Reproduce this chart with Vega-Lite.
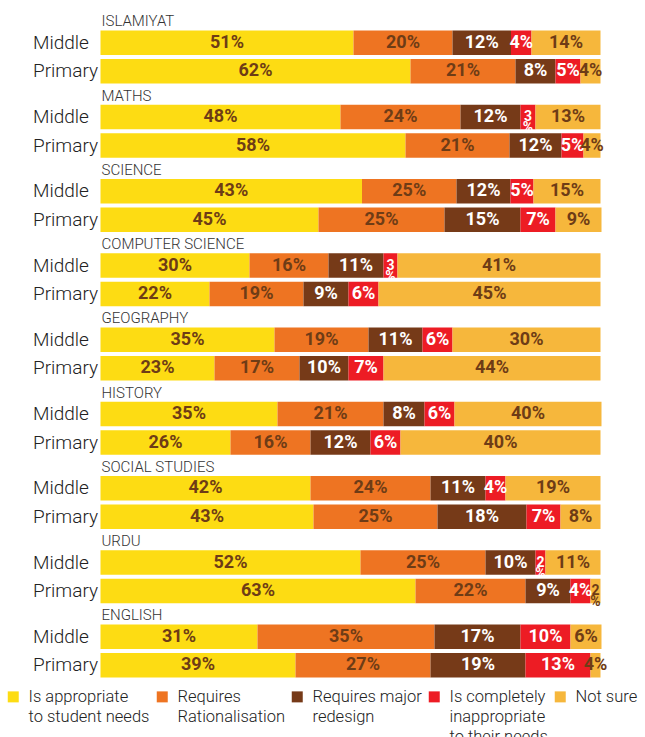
{
  "$schema": "https://vega.github.io/schema/vega-lite/v6.json",
  "padding": {"left": 4.5, "top": 13.5, "right": 4, "bottom": 2},
  "bounds": "flush",
  "data": {"values": [
    {"subject":"ISLAMIYAT","level":"Middle","category":"Is appropriate to student needs","share":50.6,"pct":51},
    {"subject":"ISLAMIYAT","level":"Middle","category":"Requires Rationalisation","share":19.8,"pct":20},
    {"subject":"ISLAMIYAT","level":"Middle","category":"Requires major redesign","share":11.7,"pct":12},
    {"subject":"ISLAMIYAT","level":"Middle","category":"Is completely inappropriate to their needs","share":4.1,"pct":4},
    {"subject":"ISLAMIYAT","level":"Middle","category":"Not sure","share":13.8,"pct":14},
    {"subject":"ISLAMIYAT","level":"Primary","category":"Is appropriate to student needs","share":62,"pct":62},
    {"subject":"ISLAMIYAT","level":"Primary","category":"Requires Rationalisation","share":21,"pct":21},
    {"subject":"ISLAMIYAT","level":"Primary","category":"Requires major redesign","share":8,"pct":8},
    {"subject":"ISLAMIYAT","level":"Primary","category":"Is completely inappropriate to their needs","share":5,"pct":5},
    {"subject":"ISLAMIYAT","level":"Primary","category":"Not sure","share":4,"pct":4},
    {"subject":"MATHS","level":"Middle","category":"Is appropriate to student needs","share":48,"pct":48},
    {"subject":"MATHS","level":"Middle","category":"Requires Rationalisation","share":24,"pct":24},
    {"subject":"MATHS","level":"Middle","category":"Requires major redesign","share":12,"pct":12},
    {"subject":"MATHS","level":"Middle","category":"Is completely inappropriate to their needs","share":3,"pct":3},
    {"subject":"MATHS","level":"Middle","category":"Not sure","share":13,"pct":13},
    {"subject":"MATHS","level":"Primary","category":"Is appropriate to student needs","share":61,"pct":58},
    {"subject":"MATHS","level":"Primary","category":"Requires Rationalisation","share":20.8,"pct":21},
    {"subject":"MATHS","level":"Primary","category":"Requires major redesign","share":10.4,"pct":12},
    {"subject":"MATHS","level":"Primary","category":"Is completely inappropriate to their needs","share":4.4,"pct":5},
    {"subject":"MATHS","level":"Primary","category":"Not sure","share":3.4,"pct":4},
    {"subject":"SCIENCE","level":"Middle","category":"Is appropriate to student needs","share":52.3,"pct":43},
    {"subject":"SCIENCE","level":"Middle","category":"Requires Rationalisation","share":18.9,"pct":25},
    {"subject":"SCIENCE","level":"Middle","category":"Requires major redesign","share":10.8,"pct":12},
    {"subject":"SCIENCE","level":"Middle","category":"Is completely inappropriate to their needs","share":4.6,"pct":5},
    {"subject":"SCIENCE","level":"Middle","category":"Not sure","share":13.4,"pct":15},
    {"subject":"SCIENCE","level":"Primary","category":"Is appropriate to student needs","share":43.6,"pct":45},
    {"subject":"SCIENCE","level":"Primary","category":"Requires Rationalisation","share":25.2,"pct":25},
    {"subject":"SCIENCE","level":"Primary","category":"Requires major redesign","share":15.2,"pct":15},
    {"subject":"SCIENCE","level":"Primary","category":"Is completely inappropriate to their needs","share":7,"pct":7},
    {"subject":"SCIENCE","level":"Primary","category":"Not sure","share":9.2,"pct":9},
    {"subject":"COMPUTER SCIENCE","level":"Middle","category":"Is appropriate to student needs","share":29.8,"pct":30},
    {"subject":"COMPUTER SCIENCE","level":"Middle","category":"Requires Rationalisation","share":15.8,"pct":16},
    {"subject":"COMPUTER SCIENCE","level":"Middle","category":"Requires major redesign","share":11,"pct":11},
    {"subject":"COMPUTER SCIENCE","level":"Middle","category":"Is completely inappropriate to their needs","share":2.8,"pct":3},
    {"subject":"COMPUTER SCIENCE","level":"Middle","category":"Not sure","share":40.6,"pct":41},
    {"subject":"COMPUTER SCIENCE","level":"Primary","category":"Is appropriate to student needs","share":21.8,"pct":22},
    {"subject":"COMPUTER SCIENCE","level":"Primary","category":"Requires Rationalisation","share":18.8,"pct":19},
    {"subject":"COMPUTER SCIENCE","level":"Primary","category":"Requires major redesign","share":9,"pct":9},
    {"subject":"COMPUTER SCIENCE","level":"Primary","category":"Is completely inappropriate to their needs","share":6,"pct":6},
    {"subject":"COMPUTER SCIENCE","level":"Primary","category":"Not sure","share":44.4,"pct":45},
    {"subject":"GEOGRAPHY","level":"Middle","category":"Is appropriate to student needs","share":34.8,"pct":35},
    {"subject":"GEOGRAPHY","level":"Middle","category":"Requires Rationalisation","share":18.8,"pct":19},
    {"subject":"GEOGRAPHY","level":"Middle","category":"Requires major redesign","share":10.8,"pct":11},
    {"subject":"GEOGRAPHY","level":"Middle","category":"Is completely inappropriate to their needs","share":6,"pct":6},
    {"subject":"GEOGRAPHY","level":"Middle","category":"Not sure","share":29.6,"pct":30},
    {"subject":"GEOGRAPHY","level":"Primary","category":"Is appropriate to student needs","share":22.8,"pct":23},
    {"subject":"GEOGRAPHY","level":"Primary","category":"Requires Rationalisation","share":17,"pct":17},
    {"subject":"GEOGRAPHY","level":"Primary","category":"Requires major redesign","share":9.8,"pct":10},
    {"subject":"GEOGRAPHY","level":"Primary","category":"Is completely inappropriate to their needs","share":7,"pct":7},
    {"subject":"GEOGRAPHY","level":"Primary","category":"Not sure","share":43.4,"pct":44},
    {"subject":"HISTORY","level":"Middle","category":"Is appropriate to student needs","share":35.4,"pct":35},
    {"subject":"HISTORY","level":"Middle","category":"Requires Rationalisation","share":21.2,"pct":21},
    {"subject":"HISTORY","level":"Middle","category":"Requires major redesign","share":8.2,"pct":8},
    {"subject":"HISTORY","level":"Middle","category":"Is completely inappropriate to their needs","share":6,"pct":6},
    {"subject":"HISTORY","level":"Middle","category":"Not sure","share":29.4,"pct":40},
    {"subject":"HISTORY","level":"Primary","category":"Is appropriate to student needs","share":26,"pct":26},
    {"subject":"HISTORY","level":"Primary","category":"Requires Rationalisation","share":16,"pct":16},
    {"subject":"HISTORY","level":"Primary","category":"Requires major redesign","share":12,"pct":12},
    {"subject":"HISTORY","level":"Primary","category":"Is completely inappropriate to their needs","share":6,"pct":6},
    {"subject":"HISTORY","level":"Primary","category":"Not sure","share":40,"pct":40},
    {"subject":"SOCIAL STUDIES","level":"Middle","category":"Is appropriate to student needs","share":42,"pct":42},
    {"subject":"SOCIAL STUDIES","level":"Middle","category":"Requires Rationalisation","share":24,"pct":24},
    {"subject":"SOCIAL STUDIES","level":"Middle","category":"Requires major redesign","share":11,"pct":11},
    {"subject":"SOCIAL STUDIES","level":"Middle","category":"Is completely inappropriate to their needs","share":4,"pct":4},
    {"subject":"SOCIAL STUDIES","level":"Middle","category":"Not sure","share":19,"pct":19},
    {"subject":"SOCIAL STUDIES","level":"Primary","category":"Is appropriate to student needs","share":42.6,"pct":43},
    {"subject":"SOCIAL STUDIES","level":"Primary","category":"Requires Rationalisation","share":24.8,"pct":25},
    {"subject":"SOCIAL STUDIES","level":"Primary","category":"Requires major redesign","share":17.8,"pct":18},
    {"subject":"SOCIAL STUDIES","level":"Primary","category":"Is completely inappropriate to their needs","share":6.8,"pct":7},
    {"subject":"SOCIAL STUDIES","level":"Primary","category":"Not sure","share":8,"pct":8},
    {"subject":"URDU","level":"Middle","category":"Is appropriate to student needs","share":52,"pct":52},
    {"subject":"URDU","level":"Middle","category":"Requires Rationalisation","share":25,"pct":25},
    {"subject":"URDU","level":"Middle","category":"Requires major redesign","share":10,"pct":10},
    {"subject":"URDU","level":"Middle","category":"Is completely inappropriate to their needs","share":2,"pct":2},
    {"subject":"URDU","level":"Middle","category":"Not sure","share":11,"pct":11},
    {"subject":"URDU","level":"Primary","category":"Is appropriate to student needs","share":63,"pct":63},
    {"subject":"URDU","level":"Primary","category":"Requires Rationalisation","share":22,"pct":22},
    {"subject":"URDU","level":"Primary","category":"Requires major redesign","share":9,"pct":9},
    {"subject":"URDU","level":"Primary","category":"Is completely inappropriate to their needs","share":4,"pct":4},
    {"subject":"URDU","level":"Primary","category":"Not sure","share":2,"pct":2},
    {"subject":"ENGLISH","level":"Middle","category":"Is appropriate to student needs","share":31.4,"pct":31},
    {"subject":"ENGLISH","level":"Middle","category":"Requires Rationalisation","share":35.4,"pct":35},
    {"subject":"ENGLISH","level":"Middle","category":"Requires major redesign","share":17.2,"pct":17},
    {"subject":"ENGLISH","level":"Middle","category":"Is completely inappropriate to their needs","share":10,"pct":10},
    {"subject":"ENGLISH","level":"Middle","category":"Not sure","share":6.2,"pct":6},
    {"subject":"ENGLISH","level":"Primary","category":"Is appropriate to student needs","share":39,"pct":39},
    {"subject":"ENGLISH","level":"Primary","category":"Requires Rationalisation","share":27,"pct":27},
    {"subject":"ENGLISH","level":"Primary","category":"Requires major redesign","share":19,"pct":19},
    {"subject":"ENGLISH","level":"Primary","category":"Is completely inappropriate to their needs","share":13,"pct":13},
    {"subject":"ENGLISH","level":"Primary","category":"Not sure","share":2,"pct":4}
  ]},
  "transform": [
    {"calculate": "indexof(['Is appropriate to student needs','Requires Rationalisation','Requires major redesign','Is completely inappropriate to their needs','Not sure'], datum.category)", "as": "order"},
    {"stack": "share", "groupby": ["subject", "level"], "sort": [{"field": "order", "order": "ascending"}], "as": ["x0", "x1"]},
    {"calculate": "(datum.x0 + datum.x1) / 2", "as": "mid"},
    {"calculate": "datum.pct <= 3 ? datum.pct + '\\n%' : datum.pct + '%'", "as": "txt"}
  ],
  "facet": {
    "row": {
      "field": "subject", "type": "nominal",
      "sort": ["ISLAMIYAT", "MATHS", "SCIENCE", "COMPUTER SCIENCE", "GEOGRAPHY", "HISTORY", "SOCIAL STUDIES", "URDU", "ENGLISH"],
      "header": null
    }
  },
  "spacing": 17.25,
  "spec": {
    "width": 500,
    "height": 57,
    "layer": [
      {
        "mark": {"type": "bar"},
        "encoding": {
          "x": {"field": "x0", "type": "quantitative", "scale": {"domain": [0, 100], "nice": false}, "axis": null},
          "x2": {"field": "x1"},
          "y": {
            "field": "level", "type": "nominal", "sort": ["Middle", "Primary"],
            "scale": {"paddingInner": 0.14, "paddingOuter": 0.07},
            "axis": {"title": null, "domain": false, "ticks": false, "tickSize": 0, "labelAlign": "left", "labelFontSize": 19, "labelFont": "Roboto", "labelFontWeight": 300, "labelColor": "#222222", "labelPadding": 68}
          },
          "color": {
            "field": "category", "type": "nominal",
            "scale": {
              "domain": ["Is appropriate to student needs", "Requires Rationalisation", "Requires major redesign", "Is completely inappropriate to their needs", "Not sure"],
              "range": ["#FDDC13", "#EE7422", "#763A18", "#ED1C24", "#F6B73C"]
            },
            "legend": {
              "orient": "none", "legendX": -95.5, "legendY": 660, "direction": "horizontal", "columns": 5, "title": null,
              "symbolType": "square", "symbolSize": 121, "symbolStrokeWidth": 0, "symbolOpacity": 1,
              "labelFontSize": 16.5, "labelFont": "Roboto", "labelFontWeight": 300, "labelColor": "#222222",
              "labelLimit": 300, "labelOffset": 7, "columnPadding": 4, "labelBaseline": "alphabetic",
              "labelExpr": "datum.label == 'Is appropriate to student needs' ? ['Is appropriate', 'to student needs', ' '] : datum.label == 'Requires Rationalisation' ? ['Requires', 'Rationalisation', ' '] : datum.label == 'Requires major redesign' ? ['Requires major', 'redesign', ' '] : datum.label == 'Is completely inappropriate to their needs' ? ['Is completely', 'inappropriate', 'to their needs'] : ['Not sure', ' ', ' ']",
              "encode": {"labels": {"update": {"dy": {"value": 5}, "lineHeight": {"value": 20}}}}
            }
          }
        }
      },
      {
        "mark": {"type": "text", "font": "Roboto", "fontWeight": "bold", "lineBreak": "\n", "lineHeight": 11},
        "encoding": {
          "x": {"field": "mid", "type": "quantitative"},
          "y": {"field": "level", "type": "nominal", "sort": ["Middle", "Primary"]},
          "text": {"field": "txt"},
          "size": {"condition": {"test": "datum.pct <= 3", "value": 14}, "value": 18},
          "color": {"condition": {"test": "datum.order == 2 || datum.order == 3", "value": "#FFFFFF"}, "value": "#6E3C16"}
        }
      },
      {
        "transform": [{"filter": "datum.level == 'Middle' && datum.order == 0"}],
        "mark": {"type": "text", "align": "left", "baseline": "alphabetic", "dy": -4, "dx": 1, "font": "Roboto", "fontWeight": 300, "fontSize": 15, "color": "#333333"},
        "encoding": {
          "x": {"datum": 0, "type": "quantitative"},
          "y": {"field": "level", "type": "nominal", "sort": ["Middle", "Primary"], "bandPosition": 0},
          "text": {"field": "subject"}
        }
      }
    ]
  },
  "config": {"view": {"stroke": null}, "font": "Roboto"}
}
